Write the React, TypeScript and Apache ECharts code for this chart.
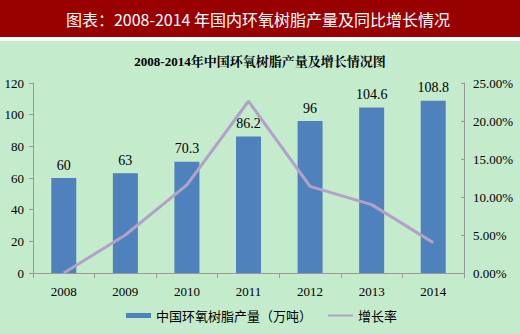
import React, { useEffect, useRef } from "react";
import * as echarts from "echarts";

const years = ["2008", "2009", "2010", "2011", "2012", "2013", "2014"];
const output = [60, 63, 70.3, 86.2, 96, 104.6, 108.8];
const growth = [0, 5.0, 11.6, 22.6, 11.4, 9.0, 4.0];
const leftTicks = { min: 0, max: 120, interval: 20 };
const rightTicks = { min: 0, max: 25, interval: 5 };

const serif = "'Liberation Serif', 'Noto Serif CJK SC', 'Noto Sans CJK SC', serif";
const sans = "'Noto Sans CJK SC', 'Noto Sans', sans-serif";

export default function App() {
  const ref = useRef<HTMLDivElement>(null);
  useEffect(() => {
    if (!ref.current) return;
    const chart = echarts.init(ref.current, null, { renderer: "svg" });
    chart.setOption({
      animation: false,
      backgroundColor: "#ffffff",
      graphic: [
        { type: "rect", shape: { x: 0, y: 0, width: 520, height: 37 }, style: { fill: "#990000" }, z: -10 },
        { type: "rect", shape: { x: 0, y: 41, width: 520, height: 293 }, style: { fill: "#c3ebcc" }, z: -10 },
        {
          type: "text",
          x: 258,
          y: 19,
          style: {
            text: "图表：2008-2014 年国内环氧树脂产量及同比增长情况",
            fill: "#ffffff",
            fontSize: 16,
            fontFamily: sans,
            align: "center",
            verticalAlign: "middle",
          },
        },
      ],
      title: {
        text: "2008-2014年中国环氧树脂产量及增长情况图",
        left: "center",
        top: 50,
        textStyle: { fontFamily: serif, fontSize: 13, fontWeight: "bold", color: "#000" },
      },
      grid: { left: 33, right: 56, top: 83, bottom: 61 },
      legend: {
        bottom: 7,
        left: 121,
        itemWidth: 25,
        itemHeight: 5,
        itemGap: 15,
        textStyle: { fontFamily: sans, fontSize: 13, color: "#000" },
        data: [
          { name: "中国环氧树脂产量（万吨）", icon: "rect" },
          { name: "增长率", itemStyle: { opacity: 0 } },
        ],
      },
      xAxis: {
        type: "category",
        data: years,
        axisLine: { lineStyle: { color: "#999" } },
        axisTick: { show: true, length: 5, lineStyle: { color: "#999" } },
        axisLabel: { fontFamily: serif, fontSize: 13, color: "#000", margin: 12 },
      },
      yAxis: [
        {
          type: "value",
          ...leftTicks,
          axisLine: { show: true, lineStyle: { color: "#999" } },
          axisTick: { show: true, length: 4, lineStyle: { color: "#999" } },
          splitLine: { show: false },
          axisLabel: { fontFamily: serif, fontSize: 13, color: "#000", margin: 9 },
        },
        {
          type: "value",
          ...rightTicks,
          position: "right",
          axisLine: { show: true, lineStyle: { color: "#999" } },
          axisTick: { show: true, inside: true, length: 3, lineStyle: { color: "#999" } },
          splitLine: { show: false },
          axisLabel: {
            fontFamily: serif,
            fontSize: 13,
            color: "#000",
            margin: 9,
            formatter: (v: number) => v.toFixed(2) + "%",
          },
        },
      ],
      series: [
        {
          name: "中国环氧树脂产量（万吨）",
          type: "bar",
          data: output,
          barWidth: 25,
          itemStyle: { color: "#4f81bd" },
          label: {
            show: true,
            position: "top",
            distance: 6,
            fontFamily: serif,
            fontSize: 14,
            color: "#000",
          },
        },
        {
          name: "增长率",
          type: "line",
          yAxisIndex: 1,
          data: growth,
          symbol: "none",
          lineStyle: { color: "#b3a2c7", width: 3 },
          itemStyle: { color: "#b3a2c7" },
          z: 5,
        },
      ],
    });
    return () => chart.dispose();
  }, []);
  return (
    <div
      ref={ref}
      style={{ position: "fixed", left: 0, top: 0, width: 520, height: 334 }}
    />
  );
}
